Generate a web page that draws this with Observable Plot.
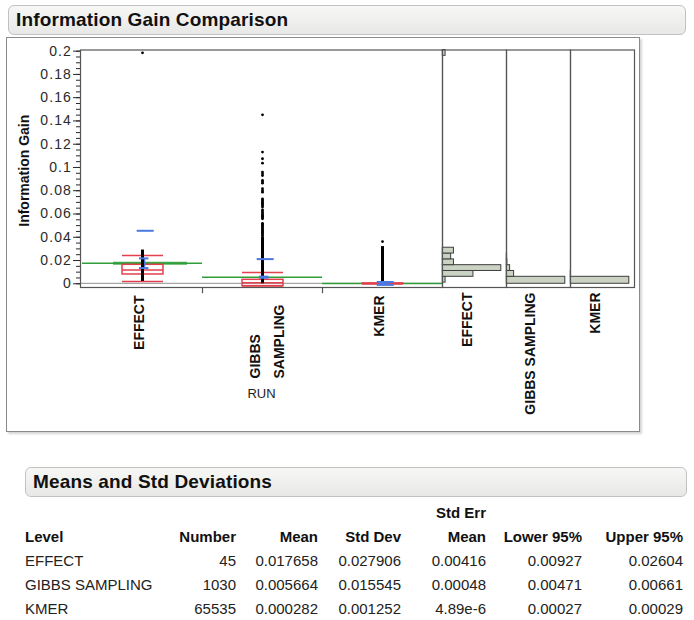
<!DOCTYPE html>
<html>
<head>
<meta charset="utf-8">
<script src="https://cdn.jsdelivr.net/npm/d3@7"></script>
<script src="https://cdn.jsdelivr.net/npm/@observablehq/plot@0.6"></script>
<style>
  html, body { margin: 0; padding: 0; background: #fff; }
  body { width: 694px; height: 620px; position: relative; overflow: hidden;
         font-family: "Liberation Sans", Arial, Helvetica, sans-serif; color: #1a1a1a; }
  .titlebar { position: absolute; box-sizing: border-box; border: 1px solid #c2c2c2; border-radius: 6px;
              background: linear-gradient(#f7f7f5, #e8e8e6); font-weight: bold; font-size: 19px; color: #111;
              padding-left: 7px; letter-spacing: 0.15px; }
  #frame { position: absolute; left: 6px; top: 37px; width: 634px; height: 395px; box-sizing: border-box;
           border: 1.5px solid #8a8a8a; box-shadow: 2px 2px 2px #d6d6d6; }
  .abs { position: absolute; top: 0; }
  svg { overflow: visible; }
  g[aria-label="xlab"] text { letter-spacing: 0.8px; }
  g[aria-label="y-axis tick label"] text { letter-spacing: 1.1px; }
  .cell { position: absolute; font-size: 15px; line-height: 18px; white-space: nowrap; color: #222; }
  .head { font-weight: bold; color: #111; }
</style>
</head>
<body>
<div class="titlebar" style="left:8px;top:5px;width:678px;height:30px;line-height:28px;">Information Gain Comparison</div>
<div id="frame"></div>
<div id="main" class="abs" style="left:0px"></div>
<div id="h0" class="abs" style="left:442px"></div>
<div id="h1" class="abs" style="left:506px"></div>
<div id="h2" class="abs" style="left:570px"></div>
<div class="titlebar" style="left:25px;top:467px;width:662px;height:30px;line-height:28px;">Means and Std Deviations</div>
<div id="table"></div>
<script>
// ---------------- data ----------------
const runs = ["EFFECT", "GIBBS SAMPLING", "KMER"];
const runTickLabels = ["EFFECT", "GIBBS\nSAMPLING", "KMER"];
const histLabels = ["EFFECT", "GIBBS SAMPLING", "KMER"];
const yMajorTicks = [0, 0.02, 0.04, 0.06, 0.08, 0.1, 0.12, 0.14, 0.16, 0.18, 0.2];
const yLabel = "Information Gain";
const xLabel = "RUN";

const counts  = [45, 1030, 65535];
const means   = [0.017658, 0.005664, 0.000282];
const stdDevs = [0.027906, 0.015545, 0.001252];
const stdErrs = [0.00416, 0.00048, 4.89e-6];
const lower95 = [0.00927, 0.00471, 0.00027];
const upper95 = [0.02604, 0.00661, 0.00029];
const grandMean = 0.000377;

// quantile box (red)
const q10 = [0.0020, -0.0020, 0.0000];
const q25 = [0.0080, -0.0020, 0.0000];
const q50 = [0.0118,  0.0008, 0.0000];
const q75 = [0.0163,  0.0034, 0.0002];
const q90 = [0.0243,  0.0097, 0.0005];

// dense stacks of points (drawn as a solid run of dots) and sparse single points
const denseLow  = [0.0020, 0.0000, 0.0000];
const denseHigh = [0.0290, 0.0400, 0.0320];
const effectPoints = [0.1986];
const gibbsPoints = [0.1453, 0.1132, 0.1075, 0.1037, 0.0960, 0.0945, 0.0930, 0.0888, 0.0875, 0.0865,
  0.0817, 0.0800, 0.0788, 0.0730, 0.0720, 0.0712, 0.0700, 0.0690, 0.0680, 0.0670, 0.0660, 0.0636,
  0.0625, 0.0612, 0.0600, 0.0590, 0.0580, 0.0570, 0.0559, 0.0520, 0.0510, 0.0500, 0.0490, 0.0480,
  0.0470, 0.0460, 0.0450, 0.0440, 0.0430, 0.0420, 0.0410];
const kmerPoints = [0.0363];

// histograms
const effectBinLow   = [0.001, 0.006, 0.011, 0.016, 0.021, 0.026, 0.196];
const effectBinHigh  = [0.006, 0.011, 0.016, 0.021, 0.026, 0.031, 0.201];
const effectBinCount = [1, 11, 21, 4, 3, 4, 1];
const gibbsBinLow    = [0.000, 0.006, 0.011, 0.016, 0.021];
const gibbsBinHigh   = [0.006, 0.011, 0.016, 0.021, 0.026];
const gibbsBinCount  = [850, 106, 48, 8, 4];
const kmerBinLow     = [0.000, 0.006];
const kmerBinHigh    = [0.006, 0.011];
const kmerBinCount   = [65500, 35];

const tableHeaders = ["Level", "Number", "Mean", "Std Dev", "Mean", "Lower 95%", "Upper 95%"];
const tableSuperHeader = "Std Err";

// ---------------- chart ----------------
const FONT = "'Liberation Sans', Arial, Helvetica, sans-serif";
const RED = "#e2404e", BLUE = "#4a78e0", GREEN = "#2f9e3a", GRAY = "#a6a6a6", FRAME = "#555";
const yDomain = [-0.0032, 0.201];
const H = 440, MT = 49.5, MB = 153;

const rows = runs.map((run, i) => ({
  run, label: runTickLabels[i], mean: means[i], se: stdErrs[i],
  q10: q10[i], q25: q25[i], q50: q50[i], q75: q75[i], q90: q90[i],
  lo: denseLow[i], hi: denseHigh[i]
}));
const points = [
  ...effectPoints.map(v => ({run: runs[0], v})),
  ...gibbsPoints.map(v => ({run: runs[1], v})),
  ...kmerPoints.map(v => ({run: runs[2], v}))
];
const sdLines = rows.flatMap((r, i) => [r.mean + stdDevs[i], r.mean - stdDevs[i]]
  .filter(v => v >= yDomain[0] && v <= yDomain[1]).map(v => ({run: r.run, y: v})));
const seLines = rows.flatMap(r => [r.mean + r.se, r.mean - r.se].map(v => ({run: r.run, y: v})));

const main = Plot.plot({
  width: 442, height: H,
  marginLeft: 80, marginRight: 0, marginTop: MT, marginBottom: MB,
  x: {type: "band", domain: runs, range: [82, 442], padding: 0, axis: null},
  y: {domain: yDomain, axis: null},
  style: {fontFamily: FONT, fontSize: "14px", color: "#2a2a2a", background: "transparent", overflow: "visible"},
  marks: [
    Plot.axisY({ticks: 40, tickSize: 4, tickFormat: () => "", ariaLabel: "minor"}),
    Plot.axisY({ticks: yMajorTicks, tickSize: 7, tickPadding: 1.5, tickFormat: d => String(d), fontSize: 14}),
    Plot.ruleY([grandMean], {stroke: GRAY, strokeWidth: 1.3}),
    Plot.tickY(rows, {x: "run", y: "mean", stroke: GREEN, strokeWidth: 1.6}),
    Plot.tickY(rows.slice(0, 1), {x: "run", y: "mean", stroke: GREEN, strokeWidth: 3.2, strokeOpacity: 0.85, insetLeft: 31, insetRight: 15}),
    Plot.barY(rows, {x: "run", y1: "q25", y2: "q75", fill: "none", stroke: RED, strokeWidth: 1.5, insetLeft: 40, insetRight: 39}),
    Plot.tickY(rows, {x: "run", y: "q10", stroke: RED, strokeWidth: 1.5, insetLeft: 40, insetRight: 39}),
    Plot.tickY(rows, {x: "run", y: "q50", stroke: RED, strokeWidth: 1.5, insetLeft: 40, insetRight: 39}),
    Plot.tickY(rows, {x: "run", y: "q90", stroke: RED, strokeWidth: 1.5, insetLeft: 40, insetRight: 39}),
    Plot.ruleX(rows, {x: "run", y1: d => d.mean - d.se, y2: d => d.mean + d.se, stroke: BLUE, strokeWidth: 2, dx: 1.7}),
    Plot.ruleX(rows, {x: "run", y1: "lo", y2: "hi", stroke: "#000", strokeWidth: 3}),
    Plot.dot(points, {x: "run", y: "v", r: 1.4, fill: "#000", stroke: null}),
    Plot.tickY(seLines, {x: "run", y: "y", stroke: BLUE, strokeWidth: 2, insetLeft: 57, insetRight: 53.6}),
    Plot.tickY(sdLines, {x: "run", y: "y", stroke: BLUE, strokeWidth: 2, insetLeft: 54.7, insetRight: 48.3}),
    Plot.frame({stroke: FRAME, strokeWidth: 1.2}),
    Plot.ruleX(runs.slice(0, 2), {x: d => d, dx: 60, y1: yDomain[0], y2: -0.0085, stroke: FRAME, strokeWidth: 1.2}),
    Plot.text(rows.filter(d => !d.label.includes("\n")), {x: "run", text: "label", frameAnchor: "bottom", rotate: -90,
      textAnchor: "end", dy: 8, dx: 1.5, fontWeight: "bold", fontSize: 14, fill: "#111", ariaLabel: "xlab"}),
    Plot.text(rows.filter(d => d.label.includes("\n")), {x: "run", text: "label", frameAnchor: "bottom", rotate: -90,
      textAnchor: "start", lineAnchor: "middle", lineHeight: 1.7, dy: 91, dx: 1.5, fontWeight: "bold", fontSize: 14, fill: "#111", ariaLabel: "xlab"}),
    Plot.text([xLabel], {frameAnchor: "bottom", dy: 110, fontSize: 13, fill: "#222"}),
    Plot.text([yLabel], {frameAnchor: "left", textAnchor: "middle", dx: -56, dy: 2, rotate: -90, fontWeight: "bold", fontSize: 14, fill: "#111"})
  ]
});
document.getElementById("main").appendChild(main);

function hist(el, lows, highs, cnts, label, dx) {
  const data = cnts.map((c, i) => ({lo: lows[i], hi: highs[i], c}));
  const svg = Plot.plot({
    width: 64, height: H,
    marginLeft: 0, marginRight: 0, marginTop: MT, marginBottom: MB,
    x: {domain: [0, d3.max(cnts)], range: [0.3, 58.8], axis: null},
    y: {domain: yDomain, axis: null},
    style: {fontFamily: FONT, fontSize: "13px", color: "#2a2a2a", background: "transparent", overflow: "visible"},
    marks: [
      Plot.rectX(data, {x1: 0, x2: "c", y1: "lo", y2: "hi", fill: "#c9d2c3", stroke: "#3e3e3e", strokeWidth: 1}),
      Plot.frame({stroke: FRAME, strokeWidth: 1.2}),
      Plot.text([label], {frameAnchor: "bottom", rotate: -90, textAnchor: "end", dy: 5, dx: dx,
        fontWeight: "bold", fontSize: 14, fill: "#111", ariaLabel: "xlab"})
    ]
  });
  document.getElementById(el).appendChild(svg);
}
hist("h0", effectBinLow, effectBinHigh, effectBinCount, histLabels[0], -3);
hist("h1", gibbsBinLow, gibbsBinHigh, gibbsBinCount, histLabels[1], -4);
hist("h2", kmerBinLow, kmerBinHigh, kmerBinCount, histLabels[2], -3);

// ---------------- table ----------------
const fmtSE = v => v < 1e-4 ? v.toExponential(2) : v.toFixed(5);
const columns = [
  {left: 25,  fmt: i => runs[i]},
  {right: 236, fmt: i => String(counts[i])},
  {right: 318, fmt: i => means[i].toFixed(6)},
  {right: 401, fmt: i => stdDevs[i].toFixed(6)},
  {right: 486, fmt: i => fmtSE(stdErrs[i])},
  {right: 582, fmt: i => lower95[i].toFixed(5)},
  {right: 683, fmt: i => upper95[i].toFixed(5)}
];
const tbl = document.getElementById("table");
function cell(text, col, cy, head) {
  const d = document.createElement("div");
  d.className = "cell" + (head ? " head" : "");
  d.textContent = text;
  d.style.top = (cy - 9) + "px";
  if (col.left != null) { d.style.left = col.left + "px"; }
  else { d.style.left = (col.right - 200) + "px"; d.style.width = "200px"; d.style.textAlign = "right"; }
  tbl.appendChild(d);
}
cell(tableSuperHeader, columns[4], 513, true);
tableHeaders.forEach((h, j) => cell(h, columns[j], 537, true));
runs.forEach((r, i) => columns.forEach(col => cell(col.fmt(i), col, 561 + 24 * i, false)));
</script>
</body>
</html>
